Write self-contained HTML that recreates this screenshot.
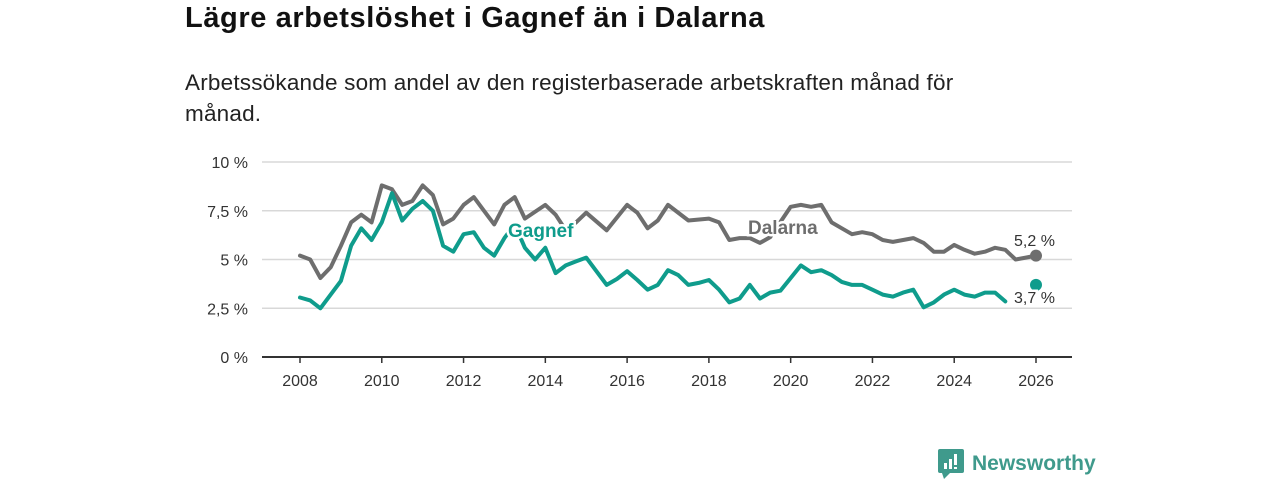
<!DOCTYPE html>
<html><head><meta charset="utf-8">
<style>
body{margin:0;width:1280px;height:480px;background:#fff;font-family:"Liberation Sans",sans-serif;overflow:hidden;position:relative}
#title{position:absolute;left:185px;top:2px;font-size:29px;letter-spacing:0.6px;font-weight:bold;color:#111;margin:0;white-space:nowrap}
#sub{position:absolute;left:185px;top:67px;font-size:22.5px;line-height:31px;letter-spacing:0.2px;color:#222;width:800px;margin:0}
svg{position:absolute;left:0;top:0}
#logo{position:absolute;left:938px;top:449px;display:flex;align-items:center;color:#3f9a8c;font-size:21px;font-weight:bold}
</style></head><body>
<h1 id="title">Lägre arbetslöshet i Gagnef än i Dalarna</h1>
<p id="sub">Arbetssökande som andel av den registerbaserade arbetskraften månad för<br>månad.</p>
<svg id="chart" width="1280" height="480"></svg>
<div id="logo">
<svg width="26" height="30" style="position:static;margin-right:8px"><rect x="0" y="0" width="26" height="24" rx="2" fill="#3f9a8c"/><polygon points="4,24 12,24 6,30" fill="#3f9a8c"/><rect x="6" y="14" width="3" height="6" fill="#fff"/><rect x="11" y="10" width="3" height="10" fill="#fff"/><rect x="16" y="5" width="3" height="11" fill="#fff"/><rect x="16" y="18" width="3" height="2" fill="#fff"/></svg>
<span>Newsworthy</span></div>
<script>
const yTicks=[0,2.5,5,7.5,10];
const yTickLabels=["0 %","2,5 %","5 %","7,5 %","10 %"];
const xTicks=[2008,2010,2012,2014,2016,2018,2020,2022,2024,2026];
const dalarnaT=[2008,2008.25,2008.5,2008.75,2009,2009.25,2009.5,2009.75,2010,2010.25,2010.5,2010.75,2011,2011.25,2011.5,2011.75,2012,2012.25,2012.5,2012.75,2013,2013.25,2013.5,2014,2014.25,2014.5,2014.75,2015,2015.5,2016,2016.25,2016.5,2016.75,2017,2017.5,2018,2018.25,2018.5,2018.75,2019,2019.25,2019.5,2020,2020.25,2020.5,2020.75,2021,2021.25,2021.5,2021.75,2022,2022.25,2022.5,2022.75,2023,2023.25,2023.5,2023.75,2024,2024.25,2024.5,2024.75,2025,2025.25,2025.5,2025.75,2026];
const dalarnaV=[5.2,5.0,4.05,4.6,5.7,6.9,7.3,6.9,8.8,8.6,7.8,8.0,8.8,8.3,6.8,7.1,7.8,8.2,7.5,6.8,7.8,8.2,7.1,7.8,7.3,6.5,6.9,7.4,6.5,7.8,7.4,6.6,7.0,7.8,7.0,7.1,6.9,6.0,6.1,6.1,5.85,6.15,7.7,7.8,7.7,7.8,6.9,6.6,6.3,6.4,6.3,6.0,5.9,6.0,6.1,5.85,5.4,5.4,5.75,5.5,5.3,5.4,5.6,5.5,5.0,5.1,5.2];
const gagnefT=[2008,2008.25,2008.5,2008.75,2009,2009.25,2009.5,2009.75,2010,2010.25,2010.5,2010.75,2011,2011.25,2011.5,2011.75,2012,2012.25,2012.5,2012.75,2013,2013.25,2013.5,2013.75,2014,2014.25,2014.5,2014.75,2015,2015.25,2015.5,2015.75,2016,2016.25,2016.5,2016.75,2017,2017.25,2017.5,2017.75,2018,2018.25,2018.5,2018.75,2019,2019.25,2019.5,2019.75,2020,2020.25,2020.5,2020.75,2021,2021.25,2021.5,2021.75,2022,2022.25,2022.5,2022.75,2023,2023.25,2023.5,2023.75,2024,2024.25,2024.5,2024.75,2025,2025.25];
const gagnefV=[3.05,2.9,2.5,3.2,3.9,5.7,6.6,6.0,6.9,8.4,7.0,7.6,8.0,7.5,5.7,5.4,6.3,6.4,5.6,5.2,6.1,6.8,5.6,5.0,5.6,4.3,4.7,4.9,5.1,4.4,3.7,4.0,4.4,3.95,3.45,3.7,4.45,4.2,3.7,3.8,3.95,3.45,2.8,3.0,3.7,3.0,3.3,3.4,4.05,4.7,4.35,4.45,4.2,3.85,3.7,3.7,3.45,3.2,3.1,3.3,3.45,2.55,2.8,3.2,3.45,3.2,3.1,3.3,3.3,2.85];
const lastD=[2026,5.2], lastG=[2026,3.7];
const NS="http://www.w3.org/2000/svg";
const svg=document.getElementById('chart');
const X=t=>300+(t-2008)*(1036-300)/18;
const Y=v=>357-v*19.5;
function mk(tag,attrs,parent){const e=document.createElementNS(NS,tag);for(const k in attrs)e.setAttribute(k,attrs[k]);(parent||svg).appendChild(e);return e;}
yTicks.forEach((v,i)=>{
  const l=mk('line',{x1:262,x2:1072,y1:Y(v),y2:Y(v),stroke:v===0?'#333':'#d8d8d8','stroke-width':v===0?2:1.5});
  
  
  const t=mk('text',{x:248,y:Y(v)+6,'text-anchor':'end','font-size':16,fill:'#333','font-family':'Liberation Sans, sans-serif'});
  t.textContent=yTickLabels[i];
  
  
});
xTicks.forEach(v=>{
  const l=mk('line',{x1:X(v),x2:X(v),y1:357,y2:363,stroke:'#333','stroke-width':1.5});
  
  
  const t=mk('text',{x:X(v),y:386,'text-anchor':'middle','font-size':16,fill:'#333','font-family':'Liberation Sans, sans-serif'});
  t.textContent=v;
  
  
});
function line(ts,vs,color,name){
  const d=ts.map((t,i)=>(i?'L':'M')+X(t).toFixed(1)+','+Y(vs[i]).toFixed(1)).join('');
  const p=mk('path',{d:d,fill:'none',stroke:color,'stroke-width':4,'stroke-linejoin':'round','stroke-linecap':'round'});
  
  
}
line(dalarnaT,dalarnaV,'#6e6e6e','dalarna-line');
line(gagnefT,gagnefV,'#0f9c8c','gagnef-line');
function lab(x,y,txt,color,name,size,weight){
  const t=mk('text',{x:x,y:y,'font-size':size,'font-weight':weight,fill:color,stroke:'#fff','stroke-width':5,'paint-order':'stroke','font-family':'Liberation Sans, sans-serif'});
  t.textContent=txt;
  
  
}
lab(508,237,'Gagnef','#0f9c8c','gagnef-label',19,'bold');
lab(748,234,'Dalarna','#6e6e6e','dalarna-label',19,'bold');
const c1=mk('circle',{cx:X(lastD[0]),cy:Y(lastD[1]),r:6,fill:'#6e6e6e'});


const c2=mk('circle',{cx:X(lastG[0]),cy:Y(lastG[1]),r:6,fill:'#0f9c8c'});


lab(1014,246,'5,2 %','#333','dalarna-end-value',16,'normal');
lab(1014,303,'3,7 %','#333','gagnef-end-value',16,'normal');
</script>
</body></html>
